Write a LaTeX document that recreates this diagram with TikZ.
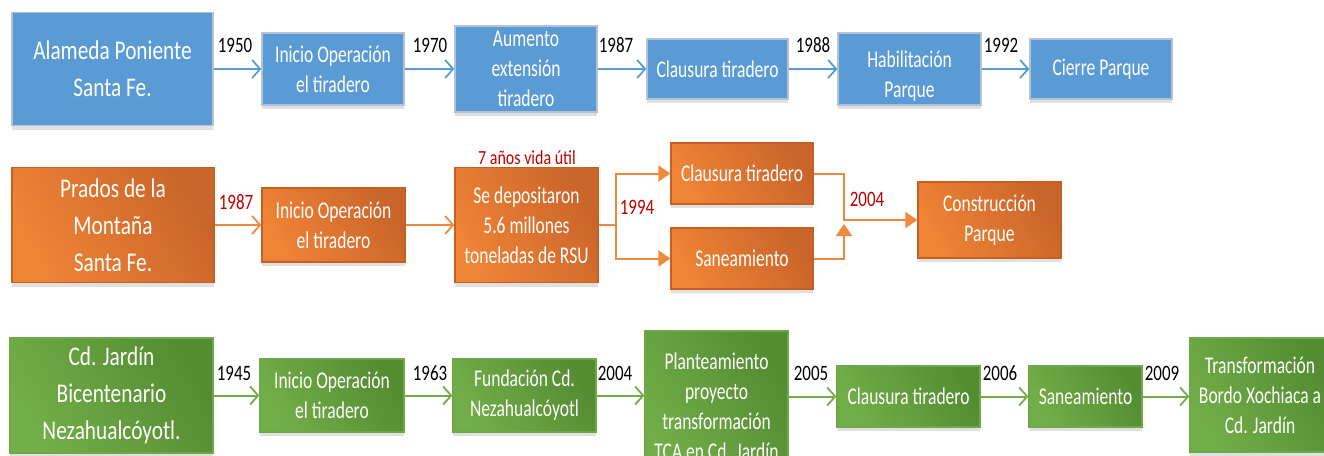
\documentclass[tikz,border=0pt]{standalone}
\usepackage{fontspec}
\setmainfont{Carlito}[FakeStretch=0.75]
\newfontfamily\bigff{Carlito}[FakeStretch=0.79]
\newfontfamily\smallff{Carlito}[FakeStretch=0.73]
\newfontfamily\yearff{Carlito}[FakeStretch=0.77]
\newfontfamily\noteff{Carlito}[FakeStretch=0.80]
\usetikzlibrary{arrows.meta,shadows}
\definecolor{bluefill}{HTML}{5B9BD5}
\definecolor{blueline}{HTML}{B4C3D3}
\definecolor{bluearrow}{HTML}{5B9BD5}
\definecolor{orangeL}{HTML}{F08436}
\definecolor{orangeD}{HTML}{C9652A}
\definecolor{orangeline}{HTML}{C55F22}
\definecolor{orangearrow}{HTML}{F0883E}
\definecolor{greenL}{HTML}{72AE48}
\definecolor{greenD}{HTML}{548C32}
\definecolor{greenline}{HTML}{6FA84A}
\definecolor{greenarrow}{HTML}{70AD47}
\definecolor{redtext}{HTML}{C00000}
\begin{document}
\begin{tikzpicture}[x=1pt,y=-1pt,
  bigfont/.style={font=\bigff\fontsize{27}{37}\selectfont},
  smallfont/.style={font=\smallff\fontsize{24}{30}\selectfont},
  box/.style={draw, line width=1.3pt, inner sep=0pt, align=center, text=white,
    drop shadow={shadow xshift=0pt, shadow yshift=-4pt, opacity=0.12, fill=black}},
  bbox/.style={box, fill=bluefill, draw=blueline},
  obox/.style={box, draw=orangeline, left color=orangeL, right color=orangeD, shading angle=120},
  gbox/.style={box, draw=greenline, left color=greenL, right color=greenD, shading angle=120},
  year/.style={font=\yearff\fontsize{22}{26}\selectfont, text=black, inner sep=0pt},
  ryear/.style={year, text=redtext},
  openarrow/.style={line width=2pt, -{Straight Barb[length=8pt,width=18pt,line width=1.8pt]}},
  barrow/.style={openarrow, draw=bluearrow},
  garrow/.style={openarrow, draw=greenarrow},
  oarrow/.style={openarrow, draw=orangearrow},
  oline/.style={line width=2pt, draw=orangearrow},
  ofill/.style={oline, -{Triangle[length=12pt,width=16pt]}}
]
\useasboundingbox (0,0) rectangle (1324,455);
\clip (0,0) rectangle (1324,455);

% ---------- Row 1 (blue) ----------
\node[bbox, bigfont, minimum width=201, minimum height=113] (A1) at (112.5,69) {Alameda Poniente\\Santa Fe.};
\node[bbox, smallfont, minimum width=142, minimum height=72] (A2) at (333,69) {Inicio Operación\\el tiradero};
\node[bbox, smallfont, minimum width=142, minimum height=86] (A3) at (526,69) {Aumento\\extensión\\tiradero};
\node[bbox, smallfont, minimum width=141, minimum height=60] (A4) at (717.5,69) {Clausura tiradero};
\node[bbox, minimum width=143, minimum height=72] (A5) at (909.5,69) {};
\node[smallfont, text=white, align=center, inner sep=0pt] (A5t) at (909.5,89) {Habilitación\\Parque\\Recreativo};
\node[bbox, smallfont, minimum width=142, minimum height=60] (A6) at (1101,69) {Cierre Parque};

\draw[barrow] (A1.east) -- (A2.west);
\draw[barrow] (A2.east) -- (A3.west);
\draw[barrow] (A3.east) -- (A4.west);
\draw[barrow] (A4.east) -- (A5.west);
\draw[barrow] (A5.east) -- (A6.west);

\node[year] (y1950) at (235,45) {1950};
\node[year] (y1970) at (430,45) {1970};
\node[year] (y1987a) at (616,45) {1987};
\node[year] (y1988) at (813,45) {1988};
\node[year] (y1992) at (1001,45) {1992};

% ---------- Row 2 (orange) ----------
\node[obox, bigfont, minimum width=202, minimum height=115] (B1) at (113,225) {Prados de la\\Montaña\\Santa Fe.};
\node[obox, smallfont, minimum width=143, minimum height=74] (B2) at (333.5,225) {Inicio Operación\\el tiradero};
\node[obox, smallfont, minimum width=143, minimum height=115] (B3) at (526.5,225) {Se depositaron\\5.6 millones\\toneladas de RSU};
\node[obox, smallfont, minimum width=142, minimum height=61] (B4) at (742,173.5) {Clausura tiradero};
\node[obox, smallfont, minimum width=142, minimum height=61] (B5) at (742,258.5) {Saneamiento};
\node[obox, smallfont, minimum width=143, minimum height=76] (B6) at (989.5,220) {Construcción\\Parque};

\coordinate (split) at (616,225);
\coordinate (join) at (844,220);
\coordinate (joinB) at (844,224);

\draw[oarrow] (B1.east) -- (B2.west);
\draw[oarrow] (B2.east) -- (B3.west);
\draw[oline] (B3.east) -- (split);
\draw[ofill] (split) |- (B4.west);
\draw[ofill] (split) |- (B5.west);
\draw[ofill] (B4.east) -| (join) -- (B6.west);
\draw[ofill] (B5.east) -| (joinB);

\node[ryear] (y1987b) at (236,202) {1987};
\node[ryear] (y1994) at (637,207) {1994};
\node[ryear] (y2004b) at (867,199) {2004};
\node[text=redtext, font=\noteff\fontsize{20}{24}\selectfont, inner sep=0pt] (vida) at (527,158) {7 años vida útil};

% ---------- Row 3 (green) ----------
\node[gbox, bigfont, minimum width=203, minimum height=115] (C1) at (111.5,395.5) {Cd. Jardín\\Bicentenario\\Nezahualcóyotl.};
\node[gbox, smallfont, minimum width=144, minimum height=73] (C2) at (332,395.5) {Inicio Operación\\el tiradero};
\node[gbox, smallfont, minimum width=143, minimum height=73] (C3) at (524.5,395.5) {Fundación Cd.\\Nezahualcóyotl};
\node[gbox, smallfont, minimum width=143, minimum height=150] (C4) at (716.5,406) {Planteamiento\\proyecto\\transformación\\TCA en Cd. Jardín};
\node[gbox, smallfont, minimum width=143, minimum height=61] (C5) at (908.5,396.5) {Clausura tiradero};
\node[gbox, smallfont, minimum width=113, minimum height=61] (C6) at (1085.5,396.5) {Saneamiento};
\node[gbox, smallfont, minimum width=140, minimum height=114] (C7) at (1260,395) {Transformación\\Bordo Xochiaca a\\Cd. Jardín};

\draw[garrow] (C1.east) -- (C2.west);
\draw[garrow] (C2.east) -- (C3.west);
\draw[garrow] (C3.east) -- (C3.east -| C4.west);
\draw[garrow] (C5.west -| C4.east) -- (C5.west);
\draw[garrow] (C5.east) -- (C6.west);
\draw[garrow] (C6.east) -- (C6.east -| C7.west);

\node[year] (y1945) at (234,373) {1945};
\node[year] (y1963) at (430,373) {1963};
\node[year] (y2004c) at (615,373) {2004};
\node[year] (y2005) at (811,373) {2005};
\node[year] (y2006) at (1000,373) {2006};
\node[year] (y2009) at (1162,373) {2009};
\end{tikzpicture}
\end{document}
